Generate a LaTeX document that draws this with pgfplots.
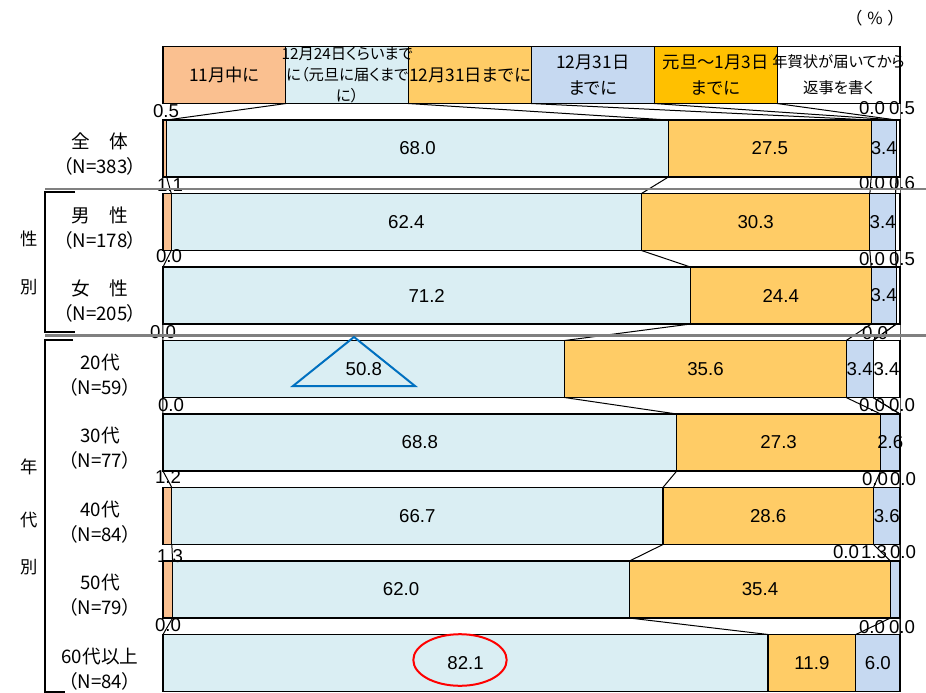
\documentclass[border=0pt]{standalone}
\usepackage{fontspec}
\setmainfont{Liberation Sans}
\newfontfamily\jp[RawFeature=+palt]{Noto Sans CJK JP}
\usepackage{pgfplots}
\usepackage{pgfplotstable}
\pgfplotsset{compat=1.18}
\definecolor{cA}{HTML}{FAC090}
\definecolor{cB}{HTML}{DAEEF3}
\definecolor{cC}{HTML}{FFCC66}
\definecolor{cD}{HTML}{C6D9F1}
\definecolor{cE}{HTML}{FFC000}
\definecolor{cF}{HTML}{FFFFFF}
\definecolor{sepgray}{HTML}{808080}
\newcommand{\valfont}{\fontsize{14}{16}\selectfont}

% rows: 0 = header (legend bar), 1..8 = groups; values in %
\pgfplotstableread{
y a b c d e f tot
0 1 1 1 1 1 1 6
1 0.5 68.0 27.5 3.4 0.0 0.5 99.9
2 1.1 62.4 30.3 3.4 0.0 0.6 97.8
3 0.0 71.2 24.4 3.4 0.0 0.5 99.5
4 0.0 50.8 35.6 3.4 0.0 3.4 93.2
5 0.0 68.8 27.3 2.6 0.0 0.0 98.7
6 1.2 66.7 28.6 3.6 0.0 0.0 100.1
7 1.3 62.0 35.4 1.3 0.0 0.0 100.0
8 0.0 82.1 11.9 6.0 0.0 0.0 100.0
}\bars

% same rows, at the top and bottom edge of each bar (for the series lines)
\pgfplotstableread{
yy a b c d e f tot
-0.388 1 1 1 1 1 1 6
0.388 1 1 1 1 1 1 6
0.612 0.5 68.0 27.5 3.4 0.0 0.5 99.9
1.388 0.5 68.0 27.5 3.4 0.0 0.5 99.9
1.612 1.1 62.4 30.3 3.4 0.0 0.6 97.8
2.388 1.1 62.4 30.3 3.4 0.0 0.6 97.8
2.612 0.0 71.2 24.4 3.4 0.0 0.5 99.5
3.388 0.0 71.2 24.4 3.4 0.0 0.5 99.5
3.612 0.0 50.8 35.6 3.4 0.0 3.4 93.2
4.388 0.0 50.8 35.6 3.4 0.0 3.4 93.2
4.612 0.0 68.8 27.3 2.6 0.0 0.0 98.7
5.388 0.0 68.8 27.3 2.6 0.0 0.0 98.7
5.612 1.2 66.7 28.6 3.6 0.0 0.0 100.1
6.388 1.2 66.7 28.6 3.6 0.0 0.0 100.1
6.612 1.3 62.0 35.4 1.3 0.0 0.0 100.0
7.388 1.3 62.0 35.4 1.3 0.0 0.0 100.0
7.612 0.0 82.1 11.9 6.0 0.0 0.0 100.0
8.388 0.0 82.1 11.9 6.0 0.0 0.0 100.0
}\edges

% small values written in the gaps above the bars (pixel position of the text)
\pgfplotstableread{
px py t
166 111 0.5
872 108 0.0
902 108 0.5
170 185 1.1
872 183 0.0
902 183 0.6
169 256 0.0
872 259 0.0
902 259 0.5
163 332 0.0
875 333 0.0
171 405 0.0
872 405 0.0
902 405 0.0
168 477 1.2
875 479 0.0
903 479 0.0
170 556 1.3
846 552 0.0
874 552 1.3
903 552 0.0
168 625 0.0
872 627 0.0
902 627 0.0
}\outl

\begin{document}
\begin{tikzpicture}
\useasboundingbox (0pt,0pt) rectangle (694.5pt,-519.75pt);
\begin{axis}[
  at={(122.25pt,-524.8125pt)}, anchor=south west,
  scale only axis, width=552.75pt, height=496.125pt,
  xmin=0, xmax=100, ymin=-0.5, ymax=8.5, y dir=reverse,
  axis line style={draw=none}, major tick length=0pt,
  xtick=\empty, ytick={1,2,3,4,5,6,7,8},
  yticklabels={{全　体\\（N=383）},{男　性\\（N=178）},{女　性\\（N=205）},
    {20代\\（N=59）},{30代\\（N=77）},{40代\\（N=84）},{50代\\（N=79）},{60代以上\\（N=84）}},
  yticklabel style={align=center, anchor=center, xshift=-47.25pt, yshift=-4.5pt,
    font=\jp\fontsize{14}{18.75}\selectfont},
  bar width=42.75pt,
  clip=false,
  /pgf/number format/assume math mode=true,
  every node near coord/.append style={font=\valfont, anchor=center, text=black, inner sep=0pt},
]
% series lines
\addplot[black, line width=0.75pt, mark=none] table[x expr=\thisrow{a}*100/\thisrow{tot}, y=yy]{\edges};
\addplot[black, line width=0.75pt, mark=none] table[x expr=(\thisrow{a}+\thisrow{b})*100/\thisrow{tot}, y=yy]{\edges};
\addplot[black, line width=0.75pt, mark=none] table[x expr=(\thisrow{a}+\thisrow{b}+\thisrow{c})*100/\thisrow{tot}, y=yy]{\edges};
\addplot[black, line width=0.75pt, mark=none] table[x expr=(\thisrow{a}+\thisrow{b}+\thisrow{c}+\thisrow{d})*100/\thisrow{tot}, y=yy]{\edges};
\addplot[black, line width=0.75pt, mark=none] table[x expr=(\thisrow{a}+\thisrow{b}+\thisrow{c}+\thisrow{d}+\thisrow{e})*100/\thisrow{tot}, y=yy]{\edges};
\addplot[black, line width=0.75pt, mark=none] table[x expr=(\thisrow{a}+\thisrow{b}+\thisrow{c}+\thisrow{d}+\thisrow{e}+\thisrow{f})*100/\thisrow{tot}, y=yy]{\edges};
% stacked bars
\addplot[xbar, stack plots=x, fill=cA, draw=black, line width=0.9pt] table[x expr=\thisrow{a}*100/\thisrow{tot}, y=y]{\bars};
\addplot[xbar, stack plots=x, fill=cB, draw=black, line width=0.9pt] table[x expr=\thisrow{b}*100/\thisrow{tot}, y=y]{\bars};
\addplot[xbar, stack plots=x, fill=cC, draw=black, line width=0.9pt] table[x expr=\thisrow{c}*100/\thisrow{tot}, y=y]{\bars};
\addplot[xbar, stack plots=x, fill=cD, draw=black, line width=0.9pt] table[x expr=\thisrow{d}*100/\thisrow{tot}, y=y]{\bars};
\addplot[xbar, stack plots=x, fill=cE, draw=black, line width=0.9pt] table[x expr=\thisrow{e}*100/\thisrow{tot}, y=y]{\bars};
\addplot[xbar, stack plots=x, fill=cF, draw=black, line width=0.9pt] table[x expr=\thisrow{f}*100/\thisrow{tot}, y=y]{\bars};
% value labels inside the segments
\addplot[draw=none, mark=none, point meta=explicit,
  nodes near coords={\pgfmathprintnumber[fixed,fixed zerofill,precision=1,assume math mode=true]{\pgfplotspointmeta}},
  skip coords between index={0}{1}]
  table[x expr=(\thisrow{a}+\thisrow{b}/2)*100/\thisrow{tot}, y=y, meta=b]{\bars};
\addplot[draw=none, mark=none, point meta=explicit,
  nodes near coords={\pgfmathprintnumber[fixed,fixed zerofill,precision=1,assume math mode=true]{\pgfplotspointmeta}},
  skip coords between index={0}{1}]
  table[x expr=(\thisrow{a}+\thisrow{b}+\thisrow{c}/2)*100/\thisrow{tot}, y=y, meta=c]{\bars};
\addplot[draw=none, mark=none, point meta=explicit,
  nodes near coords={\pgfmathprintnumber[fixed,fixed zerofill,precision=1,assume math mode=true]{\pgfplotspointmeta}},
  skip coords between index={0}{1}, skip coords between index={7}{8}]
  table[x expr=(\thisrow{a}+\thisrow{b}+\thisrow{c}+\thisrow{d}/2)*100/\thisrow{tot}, y=y, meta=d]{\bars};
\addplot[draw=none, mark=none, point meta=explicit,
  nodes near coords={\pgfmathprintnumber[fixed,fixed zerofill,precision=1,assume math mode=true]{\pgfplotspointmeta}},
  skip coords between index={0}{4}, skip coords between index={5}{9}]
  table[x expr=(\thisrow{a}+\thisrow{b}+\thisrow{c}+\thisrow{d}+\thisrow{e}+\thisrow{f}/2)*100/\thisrow{tot}, y=y, meta=f]{\bars};
% small values above the bars
\addplot[draw=none, mark=none, point meta=explicit symbolic, nodes near coords]
  table[x expr=(\thisrow{px}-163)/7.37, y expr=(\thisrow{py}-75)/73.5, meta=t]{\outl};
% header (legend) texts
\node[font=\jp\fontsize{13}{16}\selectfont] at (axis cs:8.333,0) {11月中に};
\node[font=\jp\fontsize{11.5}{15.75}\selectfont, align=center] at (axis cs:25,0) {12月24日くらいまで\\に（元旦に届くまで\\に）};
\node[font=\jp\fontsize{13}{16}\selectfont] at (axis cs:41.667,0) {12月31日までに};
\node[font=\jp\fontsize{13}{19.5}\selectfont, align=center] at (axis cs:58.333,0) {12月31日\\までに};
\node[font=\jp\fontsize{13}{19.5}\selectfont, align=center] at (axis cs:75,0) {元旦～1月3日\\までに};
\node[font=\jp\fontsize{11.5}{19.5}\selectfont, align=center] at (axis cs:91.667,0) {年賀状が届いてから\\返事を書く};
\end{axis}
\begin{scope}[x=0.75pt, y=-0.75pt]
  % separators
  \draw[sepgray, line width=1.8pt] (45,189) -- (926,189);
  \draw[sepgray, line width=1.8pt] (45,335.5) -- (926,335.5);
  % brackets
  \draw[black, line width=0.9pt] (75,192) -- (45,192) -- (45,332) -- (75,332);
  \draw[black, line width=0.9pt] (73,340) -- (45,340) -- (45,692) -- (65,692);
  \node[font=\jp\fontsize{13}{15}\selectfont] at (29,239) {性};
  \node[font=\jp\fontsize{13}{15}\selectfont] at (29,287) {別};
  \node[font=\jp\fontsize{13}{15}\selectfont] at (29,467) {年};
  \node[font=\jp\fontsize{13}{15}\selectfont] at (29,520) {代};
  \node[font=\jp\fontsize{13}{15}\selectfont] at (29,567) {別};
  \node[font=\jp\fontsize{12.5}{15}\selectfont] at (875,18) {（\hspace{4pt}\%\hspace{4pt}）};
  % annotations
  \draw[color={rgb,255:red,0;green,112;blue,192}, line width=1.5pt] (354,337) -- (293,386) -- (415,386) -- cycle;
  \draw[red, line width=1.5pt] (460,660) ellipse [x radius=46.7, y radius=25.8];
\end{scope}
\end{tikzpicture}
\end{document}
